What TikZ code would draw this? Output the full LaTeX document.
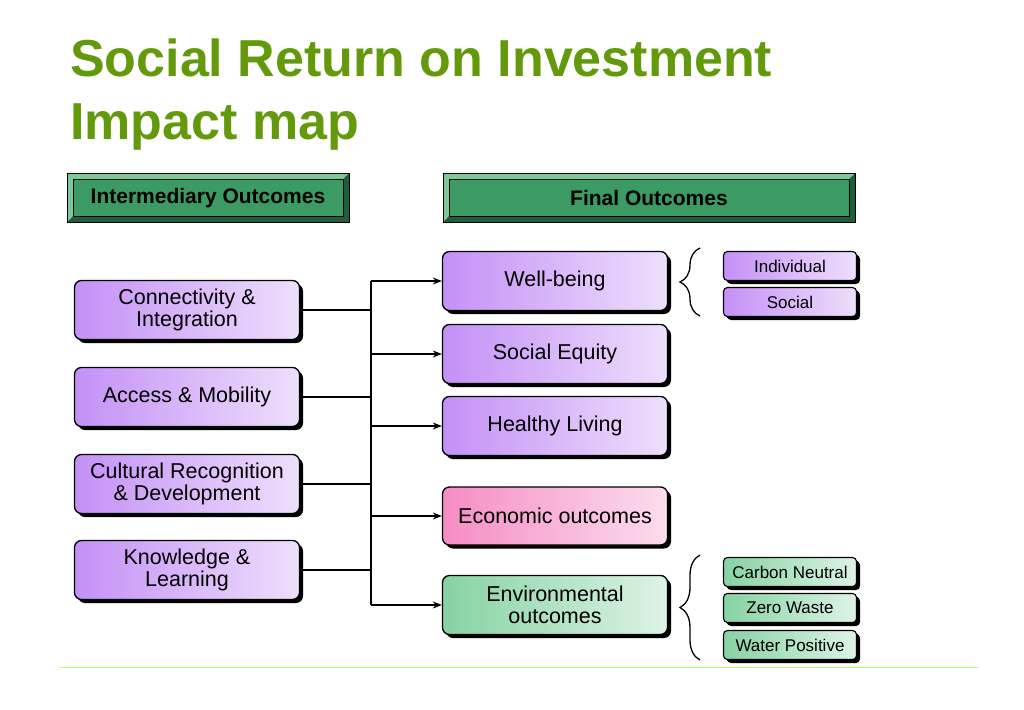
\documentclass[tikz,border=0pt]{standalone}
\usepackage{fontspec}
\setmainfont{Liberation Sans}
\usetikzlibrary{shadows,decorations.pathreplacing,calc,arrows.meta}
\definecolor{titleg}{HTML}{639A0C}
\definecolor{hdr}{HTML}{3C9A64}
\definecolor{hdrl}{HTML}{7CC89A}
\definecolor{hdrd}{HTML}{1F5E3A}
\definecolor{pl}{HTML}{C490F6}
\definecolor{pr}{HTML}{EEDFFC}
\definecolor{rl}{HTML}{F58CC4}
\definecolor{rr}{HTML}{FCDDEE}
\definecolor{gl}{HTML}{86D2A4}
\definecolor{gr}{HTML}{DDF3E5}
\begin{document}
\begin{tikzpicture}[x=1pt,y=-1pt,
 base/.style={draw=black,line width=1.3pt,rounded corners=7pt,
   drop shadow={shadow xshift=3.5pt,shadow yshift=-3.5pt,fill=black,opacity=1},
   inner sep=2pt,align=center,font=\fontsize{21.5}{22}\selectfont},
 pbox/.style={base,left color=pl,right color=pr,minimum width=225pt,minimum height=59pt},
 rbox/.style={base,left color=rl,right color=rr,minimum width=225pt,minimum height=58pt},
 gbox/.style={base,left color=gl,right color=gr,minimum width=225pt,minimum height=59pt},
 spbox/.style={base,rounded corners=4pt,line width=1.1pt,drop shadow={shadow xshift=2.5pt,shadow yshift=-2.5pt,fill=black,opacity=1},left color=pl,right color=pr,minimum width=133pt,minimum height=29pt,font=\fontsize{17}{17}\selectfont},
 sgbox/.style={spbox,left color=gl,right color=gr},
 conn/.style={line width=1.3pt},
 arr/.style={line width=1.3pt,-{Stealth[length=9pt,width=7pt]}},
 br/.style={line width=1.3pt,decorate,decoration={brace,amplitude=20pt}}
]
\useasboundingbox (0,0) rectangle (1024,709);
\node[anchor=base west,inner sep=0pt,text=titleg,font=\fontsize{52}{52}\selectfont\bfseries] (t1) at (70,76) {Social Return on Investment};
\node[anchor=base west,inner sep=0pt,text=titleg,font=\fontsize{52}{52}\selectfont\bfseries] (t2) at (70,139) {Impact map};
% headers
\foreach \n/\xa/\xb/\t in {h1/67/349/Intermediary Outcomes,h2/443/855/Final Outcomes}{
 \fill[hdrd] (\xa,173) rectangle (\xb,222);
 \fill[hdrl] (\xa,173) -- (\xb,173) -- (\xb-6,179) -- (\xa+6,216) -- (\xa,222) -- cycle;
 \fill[hdr] (\xa+6,179) rectangle (\xb-6,216);
 \draw[line width=0.8pt] (\xa,173) rectangle (\xb,222);
 \draw[line width=0.6pt] (\xa+6,179) rectangle (\xb-6,216);
 \node[font=\fontsize{21}{21}\selectfont\bfseries] (\n) at ({(\xa+\xb)/2},198) {\t};
}
% left
\node[pbox] (c) at (187,310) {Connectivity \&\\Integration};
\node[pbox] (a) at (187,397) {Access \& Mobility};
\node[pbox] (cu) at (187,484) {Cultural Recognition\\\& Development};
\node[pbox] (k) at (187,570) {Knowledge \&\\Learning};
% right
\node[pbox] (w) at (555,281) {Well-being};
\node[pbox] (s) at (555,354) {Social Equity};
\node[pbox] (h) at (555,426) {Healthy Living};
\node[rbox] (e) at (555,516) {Economic outcomes};
\node[gbox] (en) at (555,605) {Environmental\\outcomes};
% small
\node[spbox] (i) at (790,266) {Individual};
\node[spbox] (so) at (790,302) {Social};
\node[sgbox] (cn) at (790,572) {Carbon Neutral};
\node[sgbox] (zw) at (790,608) {Zero Waste};
\node[sgbox] (wp) at (790,645) {Water Positive};
% connectors
\coordinate (vt) at (371,281);
\coordinate (vb) at (371,605);
\draw[conn] (vt) -- (vb);
\foreach \n in {c,a,cu,k}{\draw[conn] (\n.east) -- (\n.east -| vt);}
\draw[arr] (vt) -- (w.west);
\foreach \n in {s,h,e}{\draw[arr] (\n.west -| vt) -- (\n.west);}
\draw[arr] (vb) -- (en.west);
% braces
\coordinate (b1t) at (700,248); \coordinate (b1b) at (700,316);
\coordinate (b2t) at (700,555); \coordinate (b2b) at (700,660);
\draw[br] (b1b) -- (b1t);
\draw[br] (b2b) -- (b2t);
\coordinate (gl1) at (60,667); \coordinate (gl2) at (978,667);
\draw[green!50!yellow!60!white,line width=1pt] (gl1) -- (gl2);
\end{tikzpicture}
\end{document}
